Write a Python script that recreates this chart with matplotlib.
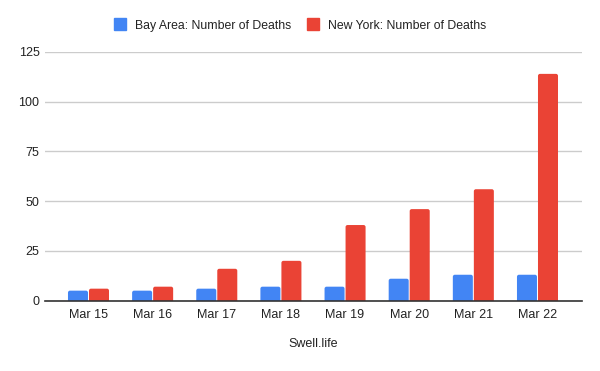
import matplotlib
matplotlib.use("Agg")
import matplotlib.pyplot as plt
import numpy as np
from matplotlib.patches import FancyBboxPatch
from matplotlib.lines import Line2D

categories = ["Mar 15", "Mar 16", "Mar 17", "Mar 18", "Mar 19", "Mar 20", "Mar 21", "Mar 22"]
bay_area = [5, 5, 6, 7, 7, 11, 13, 13]
new_york = [6, 7, 16, 20, 38, 46, 56, 114]
series_names = ["Bay Area: Number of Deaths", "New York: Number of Deaths"]
yticks = [0, 25, 50, 75, 100, 125]
x_title = "Swell.life"

plt.rcParams['font.family'] = ['Liberation Sans', 'DejaVu Sans']
BLUE = "#4285F4"
RED = "#EA4335"
TXT = "#222222"

W, H = 600, 371
fig = plt.figure(figsize=(6, 3.71), dpi=100)
ax_l, ax_r, ax_t, ax_b = 45, 582, 52, 300.6
ax = fig.add_axes([ax_l/W, 1-ax_b/H, (ax_r-ax_l)/W, (ax_b-ax_t)/H])

x = np.arange(len(categories))
w = 0.312
gap = 0.0156
bars1 = ax.bar(x - w/2 - gap/2, bay_area, width=w, color=BLUE, zorder=3)
bars2 = ax.bar(x + w/2 + gap/2, new_york, width=w, color=RED, zorder=3)

ax.set_xlim(-0.678, 7.694)
ax.set_ylim(0, 125)

# rounded tops (approx. 2px radius)
px_x = (7.694 + 0.678) / (ax_r - ax_l)
px_y = 125 / (ax_b - ax_t)
r = 2 * px_x
for cont, col in ((bars1, BLUE), (bars2, RED)):
    for rect in cont.patches:
        rect.set_visible(False)
        x0, wd, ht = rect.get_x(), rect.get_width(), rect.get_height()
        p = FancyBboxPatch((x0 + r, -5 + r * (px_y/px_x)), wd - 2*r, ht + 5 - 2*r*(px_y/px_x),
                           boxstyle=f"round,pad={r},rounding_size={r}",
                           mutation_aspect=px_y/px_x, facecolor=col, edgecolor='none',
                           zorder=3, clip_on=True)
        ax.add_patch(p)

ax.set_yticks(yticks)
ax.set_xticks(x)
ax.set_xticklabels(categories)
ax.tick_params(axis='both', length=0, labelsize=9, colors=TXT)
ax.tick_params(axis='x', pad=6)
ax.tick_params(axis='y', pad=4)
ax.grid(axis='y', color="#cccccc", linewidth=1, zorder=0)
for s in ["top", "right", "left"]:
    ax.spines[s].set_visible(False)
ax.spines["bottom"].set_color("#333333")
ax.spines["bottom"].set_linewidth(1.2)
ax.spines["bottom"].set_zorder(4)

fig.text((ax_l + ax_r) / 2 / W, 1 - 344/H, x_title, ha='center', va='center',
         fontsize=9, color=TXT)

handles = [Line2D([], [], marker='s', linestyle='none', markersize=8.6, color=BLUE),
           Line2D([], [], marker='s', linestyle='none', markersize=8.6, color=RED)]
fig.legend(handles, series_names, loc='center', bbox_to_anchor=(300/W, 1 - 25.7/H),
           ncol=2, frameon=False, fontsize=8.8, handletextpad=0.72, columnspacing=1.3,
           labelcolor=TXT, handlelength=1.0, borderpad=0, borderaxespad=0)

fig.savefig("out.png", dpi=100)
